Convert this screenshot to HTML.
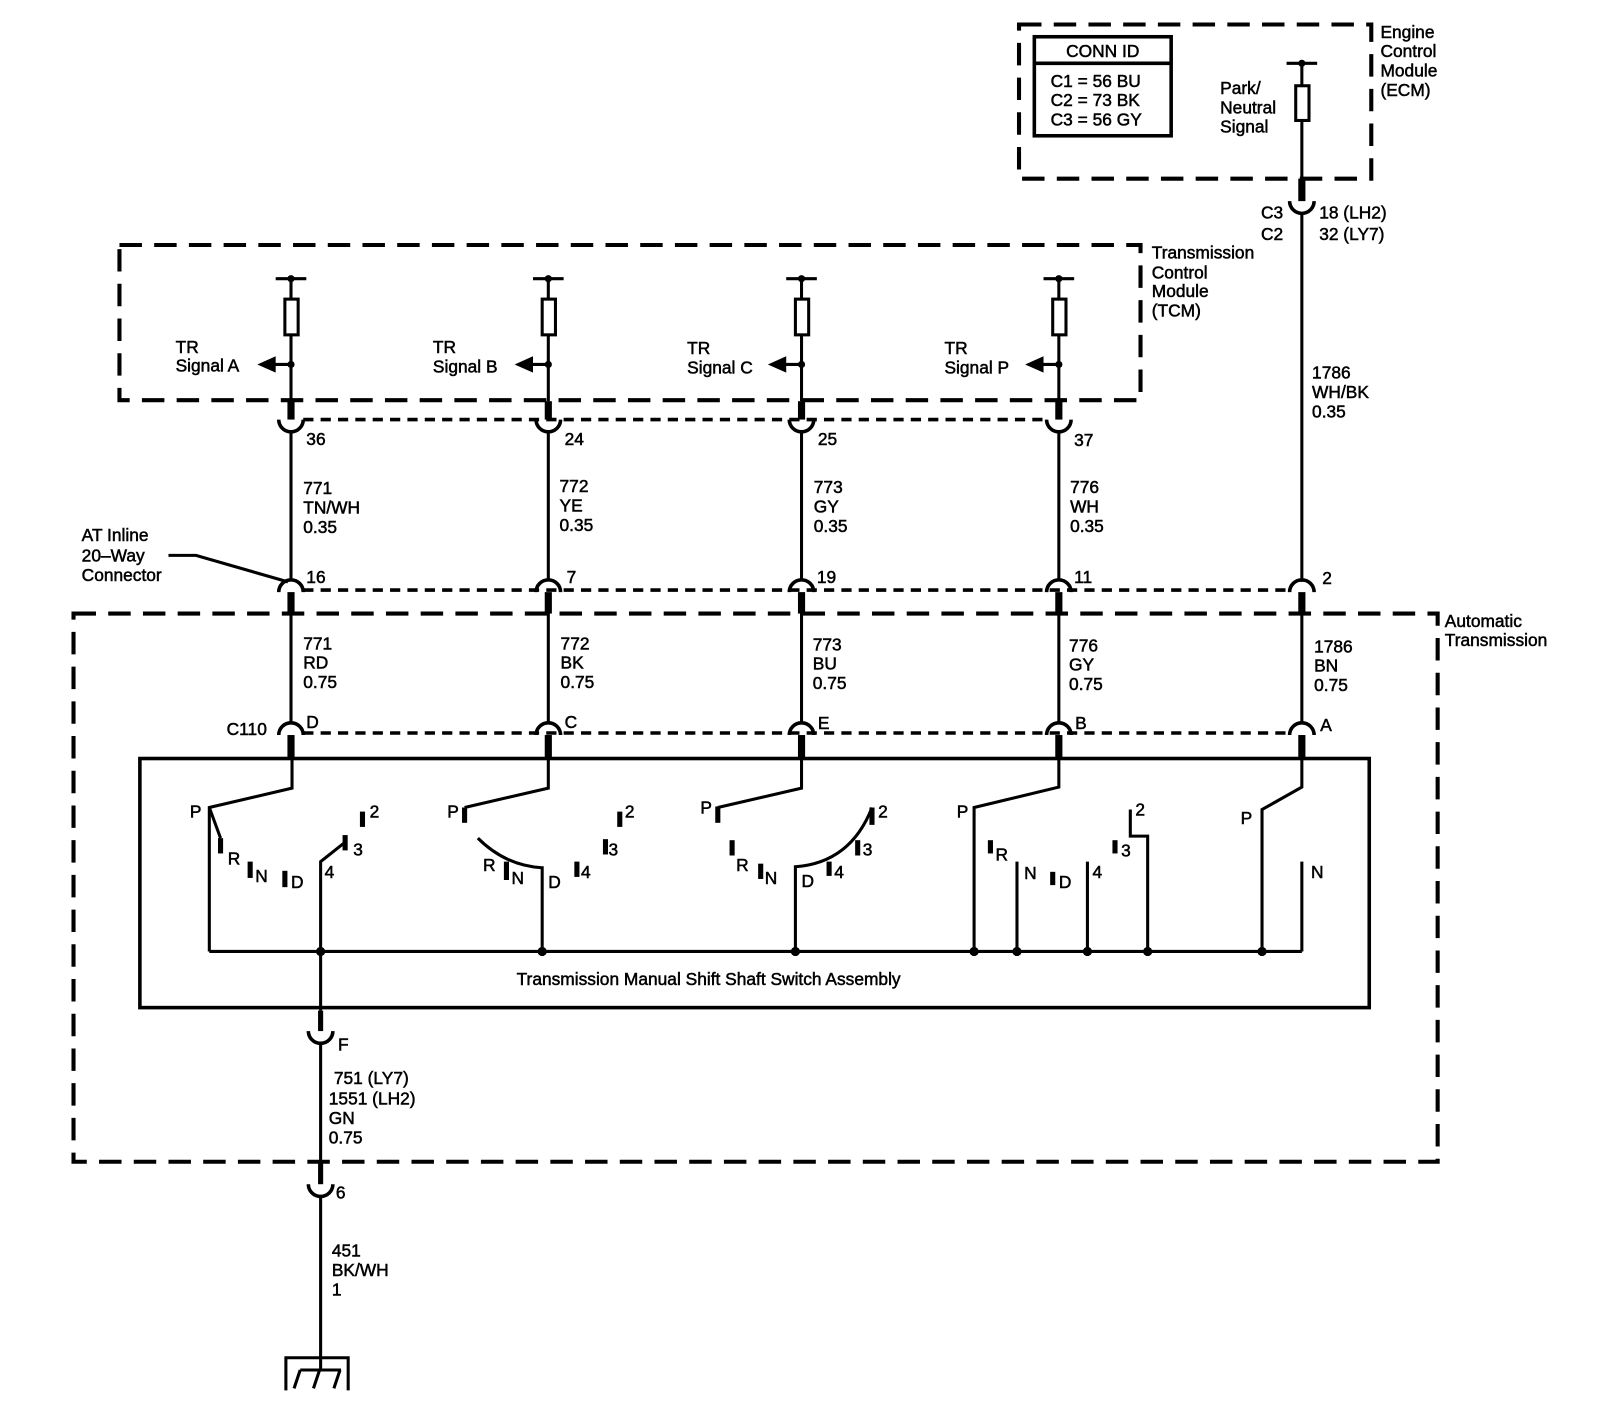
<!DOCTYPE html>
<html><head><meta charset="utf-8"><style>
html,body{margin:0;padding:0;background:#fff;}
svg{display:block;}
text{font-family:"Liberation Sans",Arial,sans-serif;font-size:17px;fill:#000;stroke:#000;stroke-width:0.5;}
</style></head><body>
<svg width="1600" height="1418" viewBox="0 0 1567 1389" preserveAspectRatio="none" xmlns="http://www.w3.org/2000/svg">
<g fill="none" stroke="#000">
<rect x="998" y="24" width="345" height="151" stroke-width="4" stroke-dasharray="22,12"/>
<rect x="117" y="240" width="1000" height="152" stroke-width="4" stroke-dasharray="22,12"/>
<rect x="72" y="601" width="1336" height="537" stroke-width="4" stroke-dasharray="22,12"/>
<line x1="297" y1="411" x2="1026" y2="411" stroke-width="3.5" stroke-dasharray="10,7"/>
<line x1="297" y1="578" x2="1264" y2="578" stroke-width="3.5" stroke-dasharray="10,7"/>
<line x1="297" y1="718" x2="1264" y2="718" stroke-width="3.5" stroke-dasharray="10,7"/>
<rect x="1013" y="36" width="134" height="97" stroke-width="3.5"/>
<line x1="1013" y1="62" x2="1147" y2="62" stroke-width="3.5"/>
<line x1="1260" y1="62" x2="1290" y2="62" stroke-width="3"/>
<line x1="1275" y1="62" x2="1275" y2="84" stroke-width="3"/>
<rect x="1269" y="84" width="13" height="34" stroke-width="3"/>
<line x1="1275" y1="118" x2="1275" y2="175" stroke-width="3"/>
<line x1="1275" y1="175" x2="1275" y2="197" stroke-width="7"/>
<path d="M1263,197 A12,12 0 0 0 1287,197" stroke-width="3.5"/>
<line x1="1275" y1="209" x2="1275" y2="570" stroke-width="3"/>
<g stroke-width="3.5">
<path d="M273,580 A12,12 0 0 1 297,580"/><path d="M525,580 A12,12 0 0 1 549,580"/><path d="M773,580 A12,12 0 0 1 797,580"/><path d="M1025,580 A12,12 0 0 1 1049,580"/><path d="M1263,580 A12,12 0 0 1 1287,580"/>
<path d="M273,720 A12,12 0 0 1 297,720"/><path d="M525,720 A12,12 0 0 1 549,720"/><path d="M773,720 A12,12 0 0 1 797,720"/><path d="M1025,720 A12,12 0 0 1 1049,720"/><path d="M1263,720 A12,12 0 0 1 1287,720"/>
<path d="M273,411 A12,12 0 0 0 297,411"/><path d="M525,411 A12,12 0 0 0 549,411"/><path d="M773,411 A12,12 0 0 0 797,411"/><path d="M1025,411 A12,12 0 0 0 1049,411"/>
</g>
<g stroke-width="3">
<line x1="285" y1="423" x2="285" y2="568"/><line x1="537" y1="423" x2="537" y2="568"/><line x1="785" y1="423" x2="785" y2="568"/><line x1="1037" y1="423" x2="1037" y2="568"/>
<line x1="285" y1="600" x2="285" y2="708"/><line x1="537" y1="600" x2="537" y2="708"/><line x1="785" y1="600" x2="785" y2="708"/><line x1="1037" y1="600" x2="1037" y2="708"/><line x1="1275" y1="600" x2="1275" y2="708"/>
</g>
<g stroke-width="7">
<line x1="285" y1="393" x2="285" y2="411"/><line x1="537" y1="393" x2="537" y2="411"/><line x1="785" y1="393" x2="785" y2="411"/><line x1="1037" y1="393" x2="1037" y2="411"/>
<line x1="285" y1="580" x2="285" y2="601"/><line x1="537" y1="580" x2="537" y2="601"/><line x1="785" y1="580" x2="785" y2="601"/><line x1="1037" y1="580" x2="1037" y2="601"/><line x1="1275" y1="580" x2="1275" y2="601"/>
<line x1="285" y1="720" x2="285" y2="743"/><line x1="537" y1="720" x2="537" y2="743"/><line x1="785" y1="720" x2="785" y2="743"/><line x1="1037" y1="720" x2="1037" y2="743"/><line x1="1275" y1="720" x2="1275" y2="743"/>
</g>
<polyline points="165,544 192,544 282,570" stroke-width="3"/>
<rect x="137" y="743" width="1204" height="244" stroke-width="3.5"/>
<g stroke-width="3">
<line x1="205" y1="932" x2="1275" y2="932"/>
<polyline points="286,743 286,772 205,791 205,932"/>
<polyline points="205,791 216,821"/>
<polyline points="314,932 314,844 338,825"/>
<polyline points="537,743 537,772 455,791"/>
<path d="M468,821 Q495,848 531,850 L531,932"/>
<polyline points="785,743 785,772 703,791"/>
<path d="M779,932 L779,849 Q833,845 854,791"/>
<polyline points="1037,743 1037,771 954,791 954,932"/>
<line x1="996" y1="844" x2="996" y2="932"/>
<line x1="1065" y1="844" x2="1065" y2="932"/>
<polyline points="1107,793 1107,819 1124,819 1124,932"/>
<polyline points="1275,743 1275,771 1236,793 1236,932"/>
<polyline points="1275,844 1275,932"/>
<line x1="314" y1="932" x2="314" y2="990"/>
<line x1="314" y1="1022" x2="314" y2="1140"/>
<line x1="314" y1="1172" x2="314" y2="1342"/>
<polyline points="280,1362 280,1330 341,1330 341,1362"/>
<line x1="294" y1="1342" x2="334" y2="1342"/>
<line x1="294" y1="1342" x2="288" y2="1360"/><line x1="313" y1="1342" x2="307" y2="1360"/><line x1="333" y1="1342" x2="327" y2="1360"/>
</g>
<g stroke-width="5">
<line x1="216" y1="821" x2="216" y2="836"/>
<line x1="245" y1="844" x2="245" y2="860"/>
<line x1="279" y1="853" x2="279" y2="869"/>
<line x1="338" y1="818" x2="338" y2="833"/>
<line x1="355" y1="795" x2="355" y2="810"/>
<line x1="455" y1="791" x2="455" y2="806"/>
<line x1="496" y1="844" x2="496" y2="862"/>
<line x1="565" y1="844" x2="565" y2="859"/>
<line x1="593" y1="822" x2="593" y2="837"/>
<line x1="607" y1="795" x2="607" y2="810"/>
<line x1="703" y1="790" x2="703" y2="806"/>
<line x1="717" y1="823" x2="717" y2="838"/>
<line x1="745" y1="846" x2="745" y2="861"/>
<line x1="812" y1="844" x2="812" y2="858"/>
<line x1="840" y1="823" x2="840" y2="838"/>
<line x1="854" y1="791" x2="854" y2="808"/>
<line x1="970" y1="823" x2="970" y2="836"/>
<line x1="1031" y1="854" x2="1031" y2="867"/>
<line x1="1092" y1="823" x2="1092" y2="836"/>
<line x1="314" y1="990" x2="314" y2="1010"/>
<line x1="314" y1="1138" x2="314" y2="1160"/>
</g>
<g stroke-width="3.5">
<path d="M302,1010 A12,12 0 0 0 326,1010"/>
<path d="M302,1160 A12,12 0 0 0 326,1160"/>
</g>
</g>
<g>
<g stroke="#000" stroke-width="3" fill="none">
<line x1="270" y1="273" x2="300" y2="273"/><line x1="285" y1="273" x2="285" y2="293"/><rect x="279" y="293" width="13" height="35"/><line x1="285" y1="328" x2="285" y2="393"/><line x1="268" y1="357" x2="285" y2="357"/>
<line x1="522" y1="273" x2="552" y2="273"/><line x1="537" y1="273" x2="537" y2="293"/><rect x="531" y="293" width="13" height="35"/><line x1="537" y1="328" x2="537" y2="393"/><line x1="520" y1="357" x2="537" y2="357"/>
<line x1="770" y1="273" x2="800" y2="273"/><line x1="785" y1="273" x2="785" y2="293"/><rect x="779" y="293" width="13" height="35"/><line x1="785" y1="328" x2="785" y2="393"/><line x1="768" y1="357" x2="785" y2="357"/>
<line x1="1022" y1="273" x2="1052" y2="273"/><line x1="1037" y1="273" x2="1037" y2="293"/><rect x="1031" y="293" width="13" height="35"/><line x1="1037" y1="328" x2="1037" y2="393"/><line x1="1020" y1="357" x2="1037" y2="357"/>
</g>
<polygon points="252,357 270,349 270,365"/><polygon points="504,357 522,349 522,365"/><polygon points="752,357 770,349 770,365"/><polygon points="1004,357 1022,349 1022,365"/>
<circle cx="285" cy="273" r="3.5"/><circle cx="537" cy="273" r="3.5"/><circle cx="785" cy="273" r="3.5"/><circle cx="1037" cy="273" r="3.5"/><circle cx="1275" cy="62" r="3.5"/>
<circle cx="285" cy="357" r="3.5"/><circle cx="537" cy="357" r="3.5"/><circle cx="785" cy="357" r="3.5"/><circle cx="1037" cy="357" r="3.5"/>
<circle cx="314" cy="932" r="4.5"/><circle cx="531" cy="932" r="4.5"/><circle cx="779" cy="932" r="4.5"/><circle cx="954" cy="932" r="4.5"/><circle cx="996" cy="932" r="4.5"/><circle cx="1065" cy="932" r="4.5"/><circle cx="1124" cy="932" r="4.5"/><circle cx="1236" cy="932" r="4.5"/>
</g>
<text x="1352" y="37">Engine</text><text x="1352" y="56">Control</text><text x="1352" y="75">Module</text><text x="1352" y="94">(ECM)</text>
<text x="1080" y="56" text-anchor="middle">CONN ID</text>
<text x="1029" y="85">C1 = 56 BU</text><text x="1029" y="104">C2 = 73 BK</text><text x="1029" y="123">C3 = 56 GY</text>
<text x="1195" y="92">Park/</text><text x="1195" y="111">Neutral</text><text x="1195" y="130">Signal</text>
<text x="1235" y="214">C3</text><text x="1235" y="235">C2</text>
<text x="1292" y="214">18 (LH2)</text><text x="1292" y="235">32 (LY7)</text>
<text x="1128" y="253">Transmission</text><text x="1128" y="273">Control</text><text x="1128" y="291">Module</text><text x="1128" y="310">(TCM)</text>
<text x="172" y="346">TR</text><text x="172" y="364">Signal A</text>
<text x="424" y="346">TR</text><text x="424" y="365">Signal B</text>
<text x="673" y="347">TR</text><text x="673" y="366">Signal C</text>
<text x="925" y="347">TR</text><text x="925" y="366">Signal P</text>
<text x="1285" y="371">1786</text><text x="1285" y="390">WH/BK</text><text x="1285" y="409">0.35</text>
<text x="300" y="436">36</text><text x="553" y="436">24</text><text x="801" y="436">25</text><text x="1052" y="437">37</text>
<text x="297" y="484">771</text><text x="297" y="503">TN/WH</text><text x="297" y="522">0.35</text>
<text x="548" y="482">772</text><text x="548" y="501">YE</text><text x="548" y="520">0.35</text>
<text x="797" y="483">773</text><text x="797" y="502">GY</text><text x="797" y="521">0.35</text>
<text x="1048" y="483">776</text><text x="1048" y="502">WH</text><text x="1048" y="521">0.35</text>
<text x="80" y="530">AT Inline</text><text x="80" y="550">20–Way</text><text x="80" y="569">Connector</text>
<text x="300" y="571">16</text><text x="555" y="571">7</text><text x="800" y="571">19</text><text x="1052" y="571">11</text><text x="1295" y="572">2</text>
<text x="1415" y="614">Automatic</text><text x="1415" y="633">Transmission</text>
<text x="297" y="636">771</text><text x="297" y="655">RD</text><text x="297" y="674">0.75</text>
<text x="549" y="636">772</text><text x="549" y="655">BK</text><text x="549" y="674">0.75</text>
<text x="796" y="637">773</text><text x="796" y="656">BU</text><text x="796" y="675">0.75</text>
<text x="1047" y="638">776</text><text x="1047" y="657">GY</text><text x="1047" y="676">0.75</text>
<text x="1287" y="639">1786</text><text x="1287" y="658">BN</text><text x="1287" y="677">0.75</text>
<text x="222" y="720">C110</text><text x="300" y="713">D</text><text x="553" y="713">C</text><text x="801" y="714">E</text><text x="1053" y="714">B</text><text x="1293" y="716">A</text>
<text x="186" y="801">P</text><text x="223" y="847">R</text><text x="250" y="864">N</text><text x="285" y="870">D</text><text x="318" y="860">4</text><text x="346" y="838">3</text><text x="362" y="801">2</text>
<text x="438" y="801">P</text><text x="473" y="853">R</text><text x="501" y="866">N</text><text x="537" y="870">D</text><text x="569" y="860">4</text><text x="596" y="838">3</text><text x="612" y="801">2</text>
<text x="686" y="797">P</text><text x="721" y="853">R</text><text x="749" y="866">N</text><text x="785" y="869">D</text><text x="817" y="860">4</text><text x="845" y="838">3</text><text x="860" y="801">2</text>
<text x="937" y="801">P</text><text x="975" y="843">R</text><text x="1003" y="861">N</text><text x="1037" y="870">D</text><text x="1070" y="860">4</text><text x="1098" y="839">3</text><text x="1112" y="799">2</text>
<text x="1215" y="807">P</text><text x="1284" y="860">N</text>
<text x="694" y="965" text-anchor="middle">Transmission Manual Shift Shaft Switch Assembly</text>
<text x="331" y="1029">F</text>
<text x="327" y="1062">751 (LY7)</text><text x="322" y="1082">1551 (LH2)</text><text x="322" y="1101">GN</text><text x="322" y="1120">0.75</text>
<text x="329" y="1174">6</text>
<text x="325" y="1231">451</text><text x="325" y="1250">BK/WH</text><text x="325" y="1269">1</text>
</svg>
</body></html>
